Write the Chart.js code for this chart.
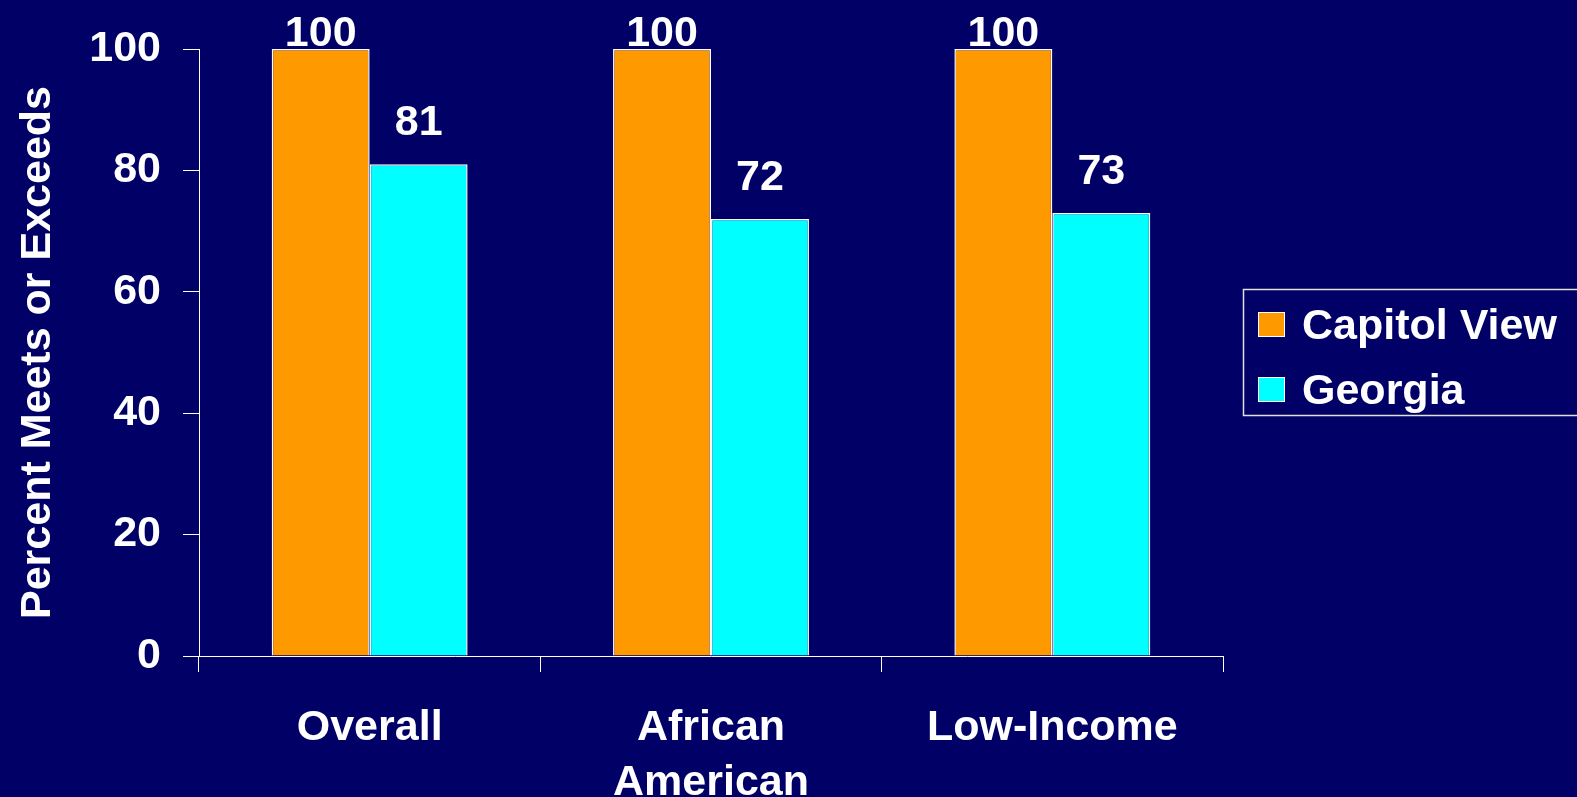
<!DOCTYPE html>
<html>
<head>
<meta charset="utf-8">
<script src="https://cdn.jsdelivr.net/npm/chart.js"></script>
<style>
  html, body { margin: 0; padding: 0; background: #000066; }
  #wrap { width: 1577px; height: 797px; }
</style>
</head>
<body>
<div id="wrap"><canvas id="myChart" width="1577" height="797"></canvas></div>
<script>
var categories = ["Overall", ["African", "American"], "Low-Income"];
var seriesNames = ["Capitol View", "Georgia"];
var capitolView = [100, 100, 100];
var georgia = [81, 72, 73];
var yMin = 0, yMax = 100, yStep = 20;

var FONT = "'Liberation Sans', Arial, sans-serif";

// navy page background
var bgPlugin = {
  id: "bg",
  beforeDraw: function (chart) {
    var c = chart.ctx;
    c.save();
    c.fillStyle = "#000066";
    c.fillRect(0, 0, chart.width, chart.height);
    c.restore();
  }
};

// numbers above the bars
var valuePlugin = {
  id: "values",
  afterDatasetsDraw: function (chart) {
    var c = chart.ctx;
    c.save();
    c.font = "bold 43px " + FONT;
    c.fillStyle = "#ffffff";
    c.textAlign = "center";
    c.textBaseline = "alphabetic";
    chart.data.datasets.forEach(function (ds, i) {
      chart.getDatasetMeta(i).data.forEach(function (bar, j) {
        var y = Math.max(bar.y - 29, 46);
        c.fillText(String(ds.data[j]), bar.x, y);
      });
    });
    c.restore();
  }
};

// boxed legend on the right
var legendPlugin = {
  id: "boxLegend",
  afterDraw: function (chart) {
    var c = chart.ctx;
    c.save();
    c.strokeStyle = "#e0e0e0";
    c.lineWidth = 1.5;
    c.strokeRect(1243.5, 289.5, 400, 126);
    c.font = "bold 43px " + FONT;
    c.textBaseline = "alphabetic";
    c.textAlign = "left";
    chart.data.datasets.forEach(function (ds, i) {
      var top = 312 + i * 65;
      c.fillStyle = ds.backgroundColor;
      c.fillRect(1258, top, 27, 25);
      c.strokeStyle = "#ffffff";
      c.lineWidth = 1;
      c.strokeRect(1258.5, top + 0.5, 26, 24);
      c.fillStyle = "#ffffff";
      c.fillText(ds.label, 1302, top + 27);
    });
    c.restore();
  }
};

var ctx = document.getElementById("myChart").getContext("2d");
var myChart = new Chart(ctx, {
  type: "bar",
  data: {
    labels: categories,
    datasets: [
      {
        label: seriesNames[0],
        data: capitolView,
        backgroundColor: "#FF9900",
        borderColor: "#ffffff",
        borderWidth: 1.5
      },
      {
        label: seriesNames[1],
        data: georgia,
        backgroundColor: "#00FFFF",
        borderColor: "#ffffff",
        borderWidth: 1.5
      }
    ]
  },
  options: {
    responsive: false,
    animation: false,
    devicePixelRatio: 1,
    layout: { padding: { top: 49, right: 354, bottom: 0, left: 0 } },
    datasets: {
      bar: { barPercentage: 1, categoryPercentage: 0.574 }
    },
    plugins: {
      legend: { display: false },
      tooltip: { enabled: false }
    },
    scales: {
      x: {
        grid: { offset: true, drawOnChartArea: false, drawTicks: true, tickLength: 16, color: "#ffffff" },
        border: { color: "#ffffff", width: 1 },
        ticks: {
          color: "#ffffff",
          padding: 29,
          maxRotation: 0,
          autoSkip: false,
          font: { family: FONT, size: 43, weight: "bold", lineHeight: 1.28 }
        },
        afterFit: function (s) { s.height = 141; }
      },
      y: {
        min: yMin,
        max: yMax,
        grid: { drawOnChartArea: false, drawTicks: true, tickLength: 16, color: "#ffffff" },
        border: { color: "#ffffff", width: 1 },
        ticks: {
          stepSize: yStep,
          color: "#ffffff",
          padding: 22,
          font: { family: FONT, size: 43, weight: "bold" }
        },
        title: {
          display: true,
          text: "Percent Meets or Exceeds",
          color: "#ffffff",
          padding: { top: 12, bottom: 0 },
          font: { family: FONT, size: 43, weight: "bold" }
        },
        afterFit: function (s) { s.width = 199; }
      }
    }
  },
  plugins: [bgPlugin, valuePlugin, legendPlugin]
});
</script>
</body>
</html>
